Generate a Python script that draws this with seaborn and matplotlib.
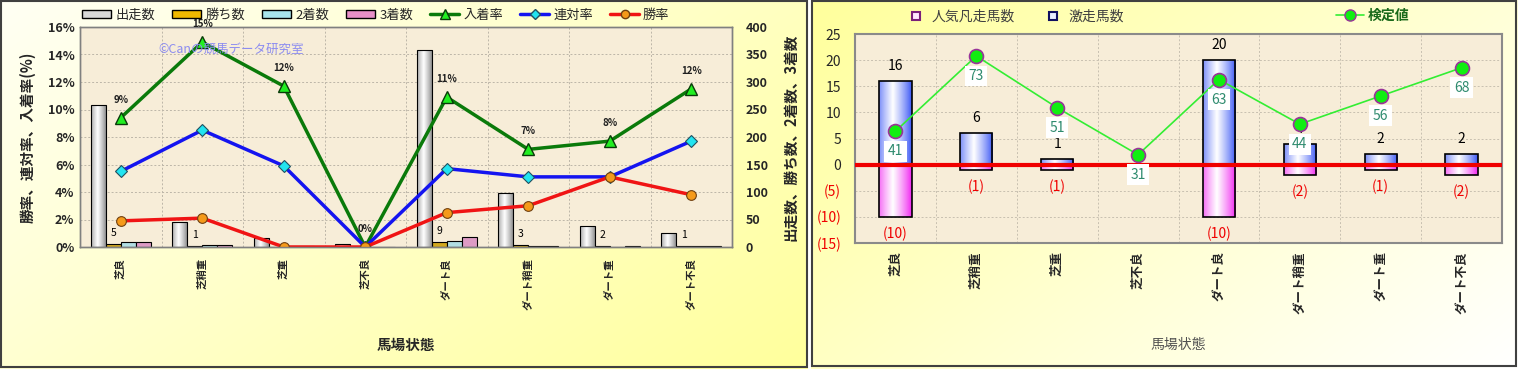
import numpy as np
import pandas as pd
import matplotlib
matplotlib.use("Agg")
import matplotlib.pyplot as plt
import seaborn as sns
from matplotlib.patches import Patch, Rectangle
from matplotlib.lines import Line2D
from matplotlib.colors import to_rgb

# ---------------- data ----------------
categories = ["芝良", "芝稍重", "芝重", "芝不良", "ダート良", "ダート稍重", "ダート重", "ダート不良"]
starts = [258, 46, 17, 6, 358, 98, 39, 26]
wins = [5, 1, 0, 0, 9, 3, 2, 1]
seconds = [9, 3, 1, 0, 11, 2, 0, 1]
thirds = [10, 3, 1, 0, 19, 2, 1, 1]
place_rate = [9.4, 14.9, 11.7, 0.0, 10.9, 7.1, 7.7, 11.5]
quinella_rate = [5.5, 8.5, 5.9, 0.0, 5.7, 5.1, 5.1, 7.7]
win_rate = [1.9, 2.1, 0.0, 0.0, 2.5, 3.0, 5.1, 3.8]

upset_counts = [16, 6, 1, 0, 20, 4, 2, 2]
flop_counts = [-10, -1, -1, 0, -10, -2, -1, -2]
test_values = [41, 73, 51, 31, 63, 44, 56, 68]

count_series = ["出走数", "勝ち数", "2着数", "3着数"]

# ---------------- style ----------------
sns.set_style("white")
plt.rcParams["font.family"] = ["Noto Sans CJK JP", "DejaVu Sans"]

W, H = 1518, 369
fig = plt.figure(figsize=(W / 100, H / 100), dpi=100)


def fx(px):
    return px / W


def fy(py):
    return 1 - py / H


# ---------------- panel backgrounds ----------------
def gradient_bg(rect, c_start, c_end):
    ax = fig.add_axes(rect)
    ax.set_zorder(-10)
    n = 200
    xx, yy = np.meshgrid(np.linspace(0, 1, n), np.linspace(0, 1, n))
    t = (xx * 0.6 + yy * 0.4)
    a, b = np.array(to_rgb(c_start)), np.array(to_rgb(c_end))
    img = a[None, None, :] * (1 - t[..., None]) + b[None, None, :] * t[..., None]
    ax.imshow(img, aspect="auto", extent=[0, 1, 0, 1], interpolation="bilinear")
    ax.set_axis_off()
    return ax


gradient_bg([0, 0, fx(808), 1], "#FFFFF4", "#FFFF9C")
gradient_bg([fx(811), 0, fx(W - 811), 1], "#FFFF9C", "#FFFFFF")
fig.patches.append(Rectangle((fx(1), fy(367)), fx(806), fy(1) - fy(367),
                             transform=fig.transFigure, fill=False, edgecolor="#404040", lw=1.5))
fig.patches.append(Rectangle((fx(812), fy(366)), fx(704), fy(1) - fy(366),
                             transform=fig.transFigure, fill=False, edgecolor="#404040", lw=1.5))

PLOT_BG = "#F7EDD8"


def gradient_bars(ax, spec_for_patch):
    xl, yl = ax.get_xlim(), ax.get_ylim()
    t = np.linspace(0, 1, 48)
    f = np.clip(1 - np.abs(t - 0.42) / 0.58, 0, 1) ** 0.8
    for p in list(ax.patches):
        spec = spec_for_patch(p)
        if spec is None:
            continue
        h = p.get_height()
        if abs(h) < 1e-9:
            p.set_visible(False)
            continue
        e, m = np.array(to_rgb(spec[0])), np.array(to_rgb(spec[1]))
        row = e[None, :] * (1 - f[:, None]) + m[None, :] * f[:, None]
        x0, w, y0 = p.get_x(), p.get_width(), p.get_y()
        im = ax.imshow(row[None, :, :], extent=[x0, x0 + w, y0, y0 + h], aspect="auto",
                       interpolation="bilinear", zorder=2)
        im.set_clip_path(p)
        p.set_facecolor("none")
        p.set_zorder(2.1)
    ax.set_xlim(xl)
    ax.set_ylim(yl)


# ================= LEFT CHART =================
axL = fig.add_axes([fx(80), fy(247), fx(732 - 80), fy(27) - fy(247)])
axL.set_facecolor(PLOT_BG)

df = pd.DataFrame({
    "cat": categories * 4,
    "series": sum([[s] * len(categories) for s in count_series], []),
    "value": starts + wins + seconds + thirds,
})
bar_pal = {"出走数": "#C8C8C8", "勝ち数": "#F0B800", "2着数": "#A8E4EC", "3着数": "#E890C8"}
grad_spec = {"出走数": ("#7A7A7A", "#FFFFFF"), "勝ち数": ("#A07000", "#FFE870"),
             "2着数": ("#5AA8B8", "#F0FFFF"), "3着数": ("#B83C90", "#FFD0EC")}
sns.barplot(data=df, x="cat", y="value", hue="series", hue_order=count_series, palette=bar_pal,
            width=0.74, errorbar=None, edgecolor="black", linewidth=0.8, ax=axL, legend=False)
axL.set_ylim(0, 400)
axL.set_xlim(-0.5, 7.5)

col2series = {tuple(np.round(to_rgb(c), 3)): s for s, c in bar_pal.items()}


def spec_left(p):
    key = tuple(np.round(p.get_facecolor()[:3], 3))
    s = col2series.get(key)
    return grad_spec[s] if s else None


gradient_bars(axL, spec_left)

# win count labels above the 勝ち数 bars
bar_w = 0.74 / 4
for i, v in enumerate(wins):
    if v > 0:
        xc = i - 0.74 / 2 + bar_w * 1.5
        axL.annotate(str(v), (xc, v), xytext=(0, 6), textcoords="offset pixels",
                     ha="center", va="bottom", fontsize=7.5, color="black", zorder=5)

axP = axL.twinx()
axL.yaxis.tick_right()
axL.yaxis.set_label_position("right")
axP.yaxis.tick_left()
axP.yaxis.set_label_position("left")

sns.lineplot(x=categories, y=place_rate, ax=axP, sort=False, color="#0A7A0A", lw=2.5,
             marker="^", markersize=9, markerfacecolor="#22EE22", markeredgecolor="#0A3A0A",
             markeredgewidth=1)
sns.lineplot(x=categories, y=quinella_rate, ax=axP, sort=False, color="#1414F0", lw=2.5,
             marker="D", markersize=6, markerfacecolor="#22E4F0", markeredgecolor="#205060",
             markeredgewidth=0.8)
sns.lineplot(x=categories, y=win_rate, ax=axP, sort=False, color="#F01414", lw=2.5,
             marker="o", markersize=7, markerfacecolor="#F59A1A", markeredgecolor="#704010",
             markeredgewidth=0.8)
axP.set_ylim(0, 16)
axP.set_xlim(-0.5, 7.5)
for i, v in enumerate(place_rate):
    axP.annotate(f"{round(v)}%", (i, v), xytext=(0, 13), textcoords="offset pixels",
                 ha="center", va="bottom", fontsize=7, fontweight="bold", color="#202020")

axP.set_yticks(range(0, 17, 2))
axP.set_yticklabels([f"{v}%" for v in range(0, 17, 2)], fontsize=9, fontweight="bold")
axL.set_yticks(range(0, 401, 50))
axL.set_yticklabels([str(v) for v in range(0, 401, 50)], fontsize=9, fontweight="bold")
axL.set_xticks(range(len(categories)))
axL.set_xticklabels(categories, rotation=90, fontsize=7.5, fontweight="bold")
axL.set_xticks(np.arange(0.5, 7.5, 1), minor=True)
axL.tick_params(axis="x", which="both", length=0, pad=8)
axL.tick_params(axis="y", length=0, pad=10)
axP.tick_params(axis="y", length=0, pad=4)
axL.grid(True, which="major", axis="y", color="#BDB6A8", ls=(0, (2, 2)), lw=0.7)
axL.grid(True, which="minor", axis="x", color="#BDB6A8", ls=(0, (2, 2)), lw=0.7)
axL.set_axisbelow(True)
axL.set_xlabel("")
axL.set_ylabel("")
axP.set_xlabel("")
axP.set_ylabel("")
for a in (axL, axP):
    for s in a.spines.values():
        s.set_color("#808080")
        s.set_linewidth(1.0)

fig.text(fx(28), fy(137), "勝率、連対率、入着率(%)", rotation=90, ha="center", va="center",
         fontsize=10.5, fontweight="bold")
fig.text(fx(790), fy(137), "出走数、勝ち数、2着数、3着数", rotation=90, ha="center", va="center",
         fontsize=10.5, fontweight="bold")
fig.text(fx(406), fy(345), "馬場状態", ha="center", va="center", fontsize=10.5, fontweight="bold")
fig.text(fx(158), fy(49), "©Canの競馬データ研究室", ha="left", va="center", fontsize=9,
         color="#8C8CF0")

left_handles = [
    Patch(facecolor="#D8D8D8", edgecolor="black", label="出走数"),
    Patch(facecolor="#F0B800", edgecolor="black", label="勝ち数"),
    Patch(facecolor="#A8E4EC", edgecolor="black", label="2着数"),
    Patch(facecolor="#E890C8", edgecolor="black", label="3着数"),
    Line2D([], [], color="#0A7A0A", lw=2.5, marker="^", markersize=7, markerfacecolor="#22EE22",
           markeredgecolor="#0A3A0A", label="入着率"),
    Line2D([], [], color="#1414F0", lw=2.5, marker="D", markersize=5, markerfacecolor="#22E4F0",
           markeredgecolor="#205060", label="連対率"),
    Line2D([], [], color="#F01414", lw=2.5, marker="o", markersize=6, markerfacecolor="#F59A1A",
           markeredgecolor="#704010", label="勝率"),
]
fig.legend(handles=left_handles, loc="center", bbox_to_anchor=(fx(376), fy(15)), ncol=7,
           frameon=False, fontsize=9.5, handlelength=2.2, handleheight=0.55, columnspacing=1.3,
           handletextpad=0.3)

# ================= RIGHT CHART =================
axR = fig.add_axes([fx(855), fy(243), fx(1502 - 855), fy(34) - fy(243)])
axR.set_facecolor(PLOT_BG)
sns.barplot(x=categories, y=upset_counts, color="#4060FF", width=0.4, errorbar=None,
            edgecolor="black", linewidth=1.2, ax=axR)
n_up = len(axR.patches)
sns.barplot(x=categories, y=flop_counts, color="#FF40FF", width=0.4, errorbar=None,
            edgecolor="black", linewidth=1.2, ax=axR)
axR.set_ylim(-15, 25)
axR.set_xlim(-0.5, 7.5)
patches_R = list(axR.patches)


def spec_right(p):
    idx = patches_R.index(p)
    return ("#3552F5", "#FFFFFF") if idx < n_up else ("#F020F0", "#FFFFFF")


gradient_bars(axR, spec_right)
axR.axhline(0, color="#F00000", lw=3, zorder=3)

for i, v in enumerate(upset_counts):
    if v != 0:
        axR.annotate(str(v), (i, v), xytext=(0, 8), textcoords="offset pixels",
                     ha="center", va="bottom", fontsize=10, color="black", zorder=4)
for i, v in enumerate(flop_counts):
    if v != 0:
        axR.annotate(f"({abs(v)})", (i, v), xytext=(0, -10), textcoords="offset pixels",
                     ha="center", va="top", fontsize=10, color="#F00000", zorder=4)

yt = list(range(-15, 26, 5))
axR.set_yticks(yt)
axR.set_yticklabels([f"({abs(v)})" if v < 0 else str(v) for v in yt], fontsize=10)
for lab, v in zip(axR.get_yticklabels(), yt):
    if v < 0:
        lab.set_color("#F00000")
axR.set_xticks(range(len(categories)))
axR.set_xticklabels(categories, rotation=90, fontsize=9, fontweight="bold")
axR.set_xticks(np.arange(0.5, 7.5, 1), minor=True)
axR.tick_params(axis="x", which="both", length=0, pad=6)
axR.tick_params(axis="y", length=0, pad=10)
axR.grid(True, which="major", axis="y", color="#C8C0B0", ls=(0, (2, 2)), lw=0.7)
axR.grid(True, which="minor", axis="x", color="#C8C0B0", ls=(0, (2, 2)), lw=0.7)
axR.set_axisbelow(True)
axR.set_xlabel("")
axR.set_ylabel("")
for s in axR.spines.values():
    s.set_color("#8A8A8A")
    s.set_linewidth(1.5)

# 検定値 on a hidden secondary scale
axT = axR.twinx()
scale, offset = 0.45, 26.8
axT.set_ylim(-15 / scale + offset, 25 / scale + offset)
sns.lineplot(x=categories, y=test_values, ax=axT, sort=False, color="#33EE33", lw=1.2,
             marker="o", markersize=10, markerfacecolor="#11EE11", markeredgecolor="#993399",
             markeredgewidth=1.2)
axT.set_ylim(-15 / scale + offset, 25 / scale + offset)
axT.set_xlim(-0.5, 7.5)
axT.set_yticks([])
axT.set_ylabel("")
for s in axT.spines.values():
    s.set_visible(False)
for i, v in enumerate(test_values):
    axT.annotate(str(v), (i, v), xytext=(0, -20), textcoords="offset pixels", ha="center",
                 va="center", fontsize=10, color="#2E8B6E", zorder=6,
                 bbox=dict(boxstyle="square,pad=0.25", facecolor="white", edgecolor="none"))

fig.text(fx(1178), fy(345), "馬場状態", ha="center", va="center", fontsize=10, color="#505050")

right_handles = [
    Line2D([], [], ls="none", marker="s", markersize=6, markerfacecolor="#FFE8FF",
           markeredgecolor="#7A207A", markeredgewidth=1.5, label="人気凡走馬数"),
    Line2D([], [], ls="none", marker="s", markersize=6, markerfacecolor="#E8EEFF",
           markeredgecolor="#101060", markeredgewidth=1.5, label="激走馬数"),
]
leg1 = fig.legend(handles=right_handles, loc="center", bbox_to_anchor=(fx(1013), fy(17)), ncol=2,
                  frameon=False, fontsize=10, handletextpad=0.1, columnspacing=1.8,
                  labelcolor="#404040")
leg2 = fig.legend(handles=[Line2D([], [], color="#33EE33", lw=1.2, marker="o", markersize=8,
                                  markerfacecolor="#11EE11", markeredgecolor="#993399",
                                  label="検定値")],
                  loc="center", bbox_to_anchor=(fx(1373), fy(16)), frameon=False, fontsize=10,
                  handlelength=2.0, handletextpad=0.3, labelcolor="#1A6A1A")
for t in leg2.get_texts():
    t.set_fontweight("bold")

fig.savefig("out.png", dpi=100)
